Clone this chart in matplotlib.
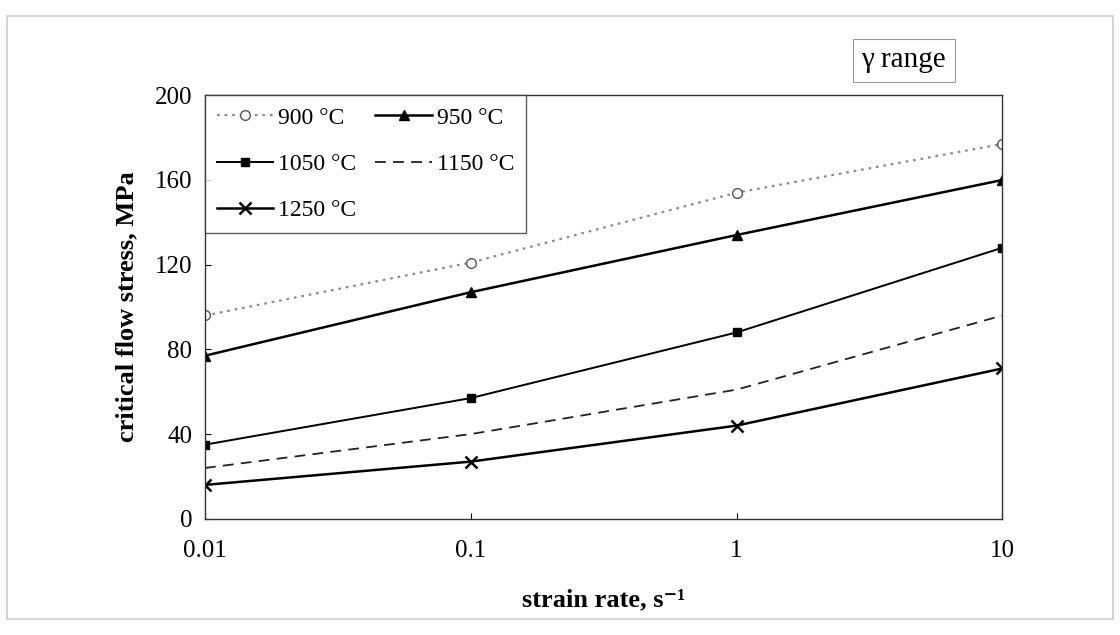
import matplotlib.pyplot as plt
from matplotlib.patches import Rectangle

plt.rcParams["font.family"] = ["Liberation Serif", "DejaVu Serif"]

# ── Data ─────────────────────────────────────────────────────────────────────
strain_rate = [0.01, 0.1, 1, 10]
labels = ["900 °C", "950 °C", "1050 °C", "1150 °C", "1250 °C"]
s900 = [96, 121, 154, 177]
s950 = [77, 107, 134, 160]
s1050 = [35, 57, 88, 128]
s1150 = [24, 40, 61, 96]
s1250 = [16, 27, 44, 71]
yticks = [0, 40, 80, 120, 160, 200]
xticklabels = ["0.01", "0.1", "1", "10"]

fig = plt.figure(figsize=(11.2, 6.35), dpi=100)
ax = fig.add_axes([0.183, 0.183, 0.712, 0.667])

h900, = ax.plot(strain_rate, s900, color="#8a8a8a", ls=(0, (1.2, 2.2)), lw=1.6,
                marker="o", ms=7, mfc="white", mec="#555555", mew=1.0, label=labels[0])
h950, = ax.plot(strain_rate, s950, color="black", lw=1.8,
                marker="^", ms=7, label=labels[1])
h1050, = ax.plot(strain_rate, s1050, color="black", lw=1.4,
                 marker="s", ms=6, label=labels[2])
h1150, = ax.plot(strain_rate, s1150, color="#222222", ls=(0, (6, 4)), lw=1.3,
                 label=labels[3])
h1250, = ax.plot(strain_rate, s1250, color="black", lw=1.8,
                 marker="x", ms=8, mew=1.8, label=labels[4])

ax.set_xscale("log")
ax.set_xlim(0.01, 10)
ax.set_ylim(0, 200)
ax.set_xticks(strain_rate)
ax.set_xticklabels(xticklabels)
ax.minorticks_off()
ax.set_yticks(yticks)
ax.tick_params(axis="both", direction="in", length=4, labelsize=18)
ax.tick_params(axis="x", pad=15)
ax.tick_params(axis="y", pad=9)
for sp in ax.spines.values():
    sp.set_linewidth(1.0)
    sp.set_color("#333333")

ax.set_ylabel("critical flow stress, MPa", fontsize=19, fontweight="bold", labelpad=12)
ax.set_xlabel("strain rate, s⁻¹", fontsize=19, fontweight="bold", labelpad=19)

# column-major order so rows read 900/950, 1050/1150, 1250
leg = ax.legend(handles=[h900, h1050, h1250, h950, h1150], ncol=2,
                loc="upper left", bbox_to_anchor=(0, 1), borderaxespad=0,
                fontsize=17, frameon=True, fancybox=False, handlelength=2.4,
                handletextpad=0.2, columnspacing=0.8, labelspacing=1.05,
                borderpad=0.5)
leg.get_frame().set_edgecolor("#333333")
leg.get_frame().set_linewidth(1.0)

fig.text(0.807, 0.905, "γ range", fontsize=21, ha="center", va="center",
         bbox=dict(boxstyle="square,pad=0.3", facecolor="white",
                   edgecolor="#999999", linewidth=0.8))

# faint chart-area border
fig.patches.append(Rectangle((0.006, 0.025), 0.988, 0.95, transform=fig.transFigure,
                             fill=False, edgecolor="#cccccc", linewidth=1.2))

fig.savefig("out.png", dpi=100)
